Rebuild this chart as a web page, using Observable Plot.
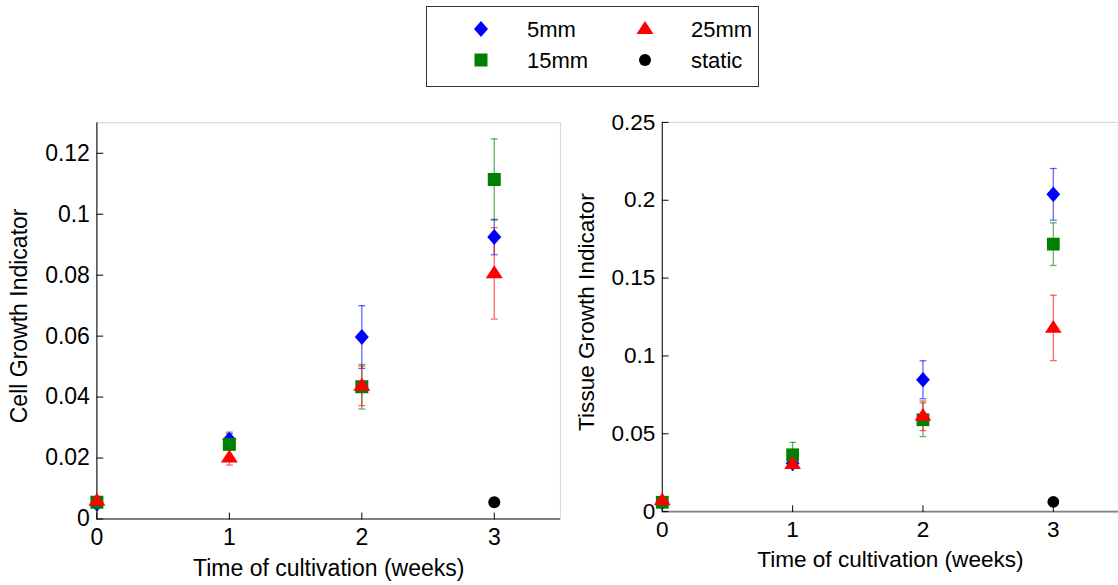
<!DOCTYPE html>
<html><head><meta charset="utf-8">
<script src="https://cdn.jsdelivr.net/npm/d3@7"></script>
<script src="https://cdn.jsdelivr.net/npm/@observablehq/plot@0.6"></script>
<style>
body{margin:0;background:#fff;font-family:"Liberation Sans",Arial,sans-serif;}
#wrap{position:relative;width:1118px;height:585px;overflow:hidden;background:#fff;}
#legend{position:absolute;left:426px;top:6px;}
#left{position:absolute;left:0;top:100px;}
#right{position:absolute;left:560px;top:100px;}
</style></head>
<body><div id="wrap"><div id="legend"></div><div id="left"></div><div id="right"></div></div>
<script>
// ---------- data ----------
const weeks = [0, 1, 2, 3];
const seriesNames = ["5mm", "15mm", "25mm", "static"];
const seriesColors = ["#0000ff", "#008000", "#ff0000", "#000000"];

// Cell Growth Indicator (left)
const cell5mm      = [0.0050, 0.0260, 0.0597, 0.0925];
const cell5mmErr   = [0.0005, 0.0020, 0.0103, 0.0058];
const cell15mm     = [0.0055, 0.0245, 0.0434, 0.1114];
const cell15mmErr  = [0.0005, 0.0040, 0.0073, 0.0133];
const cell25mm     = [0.0060, 0.0202, 0.0437, 0.0806];
const cell25mmErr  = [0.0005, 0.0025, 0.0065, 0.0150];
const cellStaticWeeks = [3];
const cellStatic      = [0.0055];

// Tissue Growth Indicator (right)
const tissue5mm     = [0.0060, 0.0310, 0.0847, 0.2038];
const tissue5mmErr  = [0.0005, 0.0030, 0.0122, 0.0166];
const tissue15mm    = [0.0060, 0.0365, 0.0590, 0.1718];
const tissue15mmErr = [0.0005, 0.0080, 0.0108, 0.0137];
const tissue25mm    = [0.0072, 0.0306, 0.0615, 0.1180];
const tissue25mmErr = [0.0005, 0.0020, 0.0095, 0.0210];
const tissueStaticWeeks = [3];
const tissueStatic      = [0.0063];

const cellTicks = [0, 0.02, 0.04, 0.06, 0.08, 0.1, 0.12];
const tissueTicks = [0, 0.05, 0.1, 0.15, 0.2, 0.25];
const xLabel = "Time of cultivation (weeks)";
const cellLabel = "Cell Growth Indicator";
const tissueLabel = "Tissue Growth Indicator";

// ---------- symbols ----------
const diamondSym = {draw(c){c.moveTo(0,-8);c.lineTo(7,0);c.lineTo(0,8);c.lineTo(-7,0);c.closePath();}};
const squareSym = {draw(c){c.rect(-6.5,-6.5,13,13);}};
const triangleSym = {draw(c){c.moveTo(0,-8);c.lineTo(8.5,5);c.lineTo(-8.5,5);c.closePath();}};
const circleSym = {draw(c){c.moveTo(6,0);c.arc(0,0,6,0,2*Math.PI);}};
const capSym = {draw(c){c.moveTo(-3.5,0);c.lineTo(3.5,0);}};
const tickShape = {draw(c,l){c.moveTo(0,0);c.lineTo(0,-l);}};
const seriesSymbols = [diamondSym, squareSym, triangleSym, circleSym];

function rows(xs, ys, es, i){
  return xs.map((x, k) => ({x, y: ys[k], e: es ? es[k] : 0, s: seriesNames[i]}));
}

function makePlot({data, yTicks, yMax, label, width, marginLeft}){
  const marks = [
    Plot.frame({stroke: "#d9d9d9", strokeWidth: 1.2}),
    Plot.ruleX([0], {stroke: "#000", strokeWidth: 1}),
    Plot.ruleY([0], {stroke: "#808080", strokeWidth: 2}),
    Plot.vector(weeks, {x: d => d, y: 0, length: 6, rotate: 0, anchor: "start", shape: tickShape, stroke: "#000", strokeWidth: 1}),
    Plot.vector(yTicks, {x: 0, y: d => d, length: 6, rotate: 90, anchor: "start", shape: tickShape, stroke: "#000", strokeWidth: 1}),
    Plot.axisX({ticks: weeks, tickSize: 0, tickPadding: 10, fontSize: 23, label: null, tickFormat: d => String(d)}),
    Plot.axisY({ticks: yTicks, tickSize: 0, tickPadding: 7, fontSize: 23, label: null, tickFormat: d => String(d)}),
    Plot.text([xLabel], {text: d => d, frameAnchor: "bottom", dy: 56.5, lineAnchor: "bottom", textAnchor: "middle", fontSize: 23, fill: "#000"}),
    Plot.text([label], {text: d => d, frameAnchor: "left", rotate: -90, dx: -70, dy: -5, lineAnchor: "bottom", textAnchor: "middle", fontSize: 23, fill: "#000"})
  ];
  data.forEach((ser, i) => {
    const col = seriesColors[i];
    const withErr = ser.filter(d => d.e > 0);
    marks.push(
      Plot.ruleX(withErr, {x: "x", y1: d => d.y - d.e, y2: d => d.y + d.e, stroke: col, strokeOpacity: 0.6, strokeWidth: 1.3}),
      Plot.dot(withErr, {x: "x", y: d => d.y + d.e, symbol: capSym, fill: "none", stroke: col, strokeOpacity: 0.6, strokeWidth: 1.3}),
      Plot.dot(withErr, {x: "x", y: d => d.y - d.e, symbol: capSym, fill: "none", stroke: col, strokeOpacity: 0.6, strokeWidth: 1.3})
    );
  });
  data.forEach((ser, i) => {
    marks.push(Plot.dot(ser, {x: "x", y: "y", symbol: seriesSymbols[i], fill: seriesColors[i], stroke: "none"}));
  });
  return Plot.plot({
    width, height: 485,
    marginLeft, marginRight: 0, marginTop: 22.3, marginBottom: 66.5,
    style: {fontFamily: "'Liberation Sans', Arial, sans-serif", color: "#000", background: "transparent", overflow: "visible"},
    x: {domain: [0, 3.5], axis: null},
    y: {domain: [0, yMax], axis: null},
    marks
  });
}

const cellData = [
  rows(weeks, cell5mm, cell5mmErr, 0),
  rows(weeks, cell15mm, cell15mmErr, 1),
  rows(weeks, cell25mm, cell25mmErr, 2),
  rows(cellStaticWeeks, cellStatic, null, 3)
];
const tissueData = [
  rows(weeks, tissue5mm, tissue5mmErr, 0),
  rows(weeks, tissue15mm, tissue15mmErr, 1),
  rows(weeks, tissue25mm, tissue25mmErr, 2),
  rows(tissueStaticWeeks, tissueStatic, null, 3)
];

document.getElementById("left").append(makePlot({data: cellData, yTicks: cellTicks, yMax: 0.13, label: cellLabel, width: 560, marginLeft: 96.4}));
document.getElementById("right").append(makePlot({data: tissueData, yTicks: tissueTicks, yMax: 0.25, label: tissueLabel, width: 568, marginLeft: 103.6}));

// ---------- legend ----------
const lg = d3.select("#legend").append("svg").attr("width", 334).attr("height", 82);
lg.append("rect").attr("x", 0.5).attr("y", 0.5).attr("width", 332).attr("height", 80).attr("fill", "#fff").attr("stroke", "#333").attr("stroke-width", 1);
const legendPos = [[55, 23, 101], [55, 54, 101], [219, 23, 265], [219, 54, 265]];
seriesNames.forEach((name, i) => {
  const [mx, my, tx] = legendPos[i];
  const p = d3.path(); seriesSymbols[i].draw(p);
  lg.append("path").attr("d", p.toString()).attr("transform", `translate(${mx},${my})`).attr("fill", seriesColors[i]);
  lg.append("text").attr("x", tx).attr("y", my).attr("dy", "0.35em").attr("font-size", 22).attr("font-family", "'Liberation Sans', Arial, sans-serif").attr("fill", "#000").text(name);
});
</script>
</body></html>
